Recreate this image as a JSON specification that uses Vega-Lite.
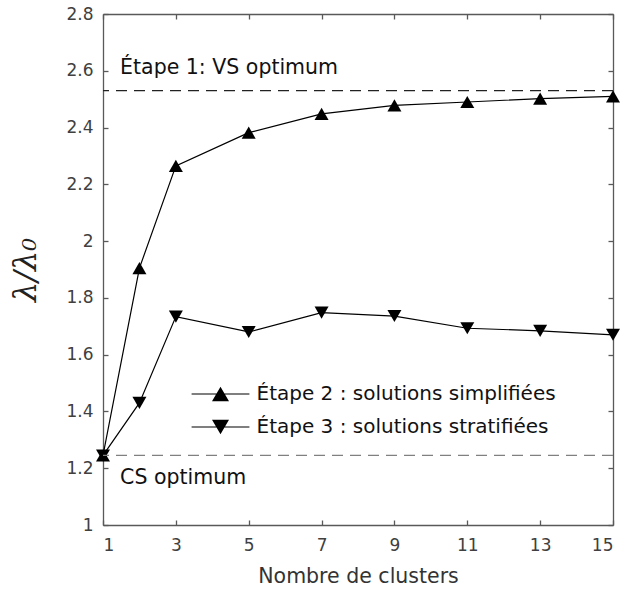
{
  "$schema": "https://vega.github.io/schema/vega-lite/v6.json",
  "width": 510,
  "height": 511,
  "autosize": {"type": "none"},
  "padding": {"left": 103, "top": 14, "right": 11, "bottom": 65},
  "background": "white",
  "config": {
    "view": {"stroke": null},
    "font": "DejaVu Sans",
    "axis": {"grid": false, "domainColor": "#595959", "tickColor": "#595959", "labelColor": "#404040", "labelFont": "DejaVu Sans", "labelFontSize": 17, "tickSize": -5, "labelPadding": 15, "domainWidth": 1.3, "tickWidth": 1.3}
  },
  "data": {"values": [
    {"series": "Étape 2 : solutions simplifiées", "x": 1, "y": 1.245},
    {"series": "Étape 2 : solutions simplifiées", "x": 2, "y": 1.905},
    {"series": "Étape 2 : solutions simplifiées", "x": 3, "y": 2.265},
    {"series": "Étape 2 : solutions simplifiées", "x": 5, "y": 2.382},
    {"series": "Étape 2 : solutions simplifiées", "x": 7, "y": 2.448},
    {"series": "Étape 2 : solutions simplifiées", "x": 9, "y": 2.478},
    {"series": "Étape 2 : solutions simplifiées", "x": 11, "y": 2.49},
    {"series": "Étape 2 : solutions simplifiées", "x": 13, "y": 2.502},
    {"series": "Étape 2 : solutions simplifiées", "x": 15, "y": 2.51},
    {"series": "Étape 3 : solutions stratifiées", "x": 1, "y": 1.245},
    {"series": "Étape 3 : solutions stratifiées", "x": 2, "y": 1.43},
    {"series": "Étape 3 : solutions stratifiées", "x": 3, "y": 1.734},
    {"series": "Étape 3 : solutions stratifiées", "x": 5, "y": 1.68},
    {"series": "Étape 3 : solutions stratifiées", "x": 7, "y": 1.748},
    {"series": "Étape 3 : solutions stratifiées", "x": 9, "y": 1.736},
    {"series": "Étape 3 : solutions stratifiées", "x": 11, "y": 1.693},
    {"series": "Étape 3 : solutions stratifiées", "x": 13, "y": 1.684},
    {"series": "Étape 3 : solutions stratifiées", "x": 15, "y": 1.67}
  ]},
  "resolve": {"axis": {"x": "independent", "y": "independent"}},
  "layer": [
    {
      "mark": {"type": "line", "color": "black", "strokeWidth": 1.2},
      "encoding": {
        "x": {"field": "x", "type": "quantitative", "scale": {"domain": [1, 15], "nice": false, "zero": false},
              "axis": {"orient": "bottom", "values": [1, 3, 5, 7, 9, 11, 13, 15], "labelPadding": 17, "title": "Nombre de clusters", "titleFont": "DejaVu Sans", "titleFontSize": 20.5, "titleFontWeight": "normal", "titleColor": "#333", "titlePadding": 13}},
        "y": {"field": "y", "type": "quantitative", "scale": {"domain": [1, 2.8], "nice": false, "zero": false},
              "axis": {"orient": "left", "values": [1, 1.2, 1.4, 1.6, 1.8, 2, 2.2, 2.4, 2.6, 2.8], "format": ".1~f", "title": "λ/λ₀", "titleFont": "DejaVu Serif", "titleFontStyle": "italic", "titleFontSize": 32, "titleFontWeight": "normal", "titleColor": "#222", "titlePadding": 23}},
        "detail": {"field": "series"}
      }
    },
    {
      "transform": [{"filter": "datum.series === 'Étape 2 : solutions simplifiées'"}],
      "mark": {"type": "point", "filled": true, "color": "black", "size": 196, "opacity": 1, "shape": "triangle-up"},
      "encoding": {
        "x": {"field": "x", "type": "quantitative", "axis": null},
        "y": {"field": "y", "type": "quantitative", "axis": null}
      }
    },
    {
      "transform": [{"filter": "datum.series === 'Étape 3 : solutions stratifiées'"}],
      "mark": {"type": "point", "filled": true, "color": "black", "size": 196, "opacity": 1, "shape": "triangle-down"},
      "encoding": {
        "x": {"field": "x", "type": "quantitative", "axis": null},
        "y": {"field": "y", "type": "quantitative", "axis": null}
      }
    },
    {
      "transform": [{"filter": "datum.x > 100"}],
      "mark": {"type": "point", "filled": true, "color": "black", "opacity": 1},
      "encoding": {
        "x": {"field": "x", "type": "quantitative", "axis": null},
        "y": {"field": "y", "type": "quantitative", "axis": null},
        "shape": {"field": "series", "type": "nominal",
          "scale": {"domain": ["Étape 2 : solutions simplifiées", "Étape 3 : solutions stratifiées"], "range": ["M-3.4,-0.07H3.4V0.07H-3.4ZM0,-0.866L1,0.866L-1,0.866Z", "M-3.4,-0.07H3.4V0.07H-3.4ZM0,0.866L-1,-0.866L1,-0.866Z"]},
          "legend": {"orient": "none", "legendX": 107.5, "legendY": 370, "title": null, "padding": 0,
            "symbolSize": 289, "symbolFillColor": "black", "symbolStrokeColor": "black", "symbolStrokeWidth": 0, "symbolOpacity": 1,
            "labelFont": "DejaVu Sans", "labelFontSize": 20, "labelColor": "#111", "labelOffset": 26, "labelLimit": 0, "rowPadding": 13,
            "encode": {"symbols": {"update": {"fill": {"value": "black"}, "opacity": {"value": 1}}}}}
        }
      }
    },
    {
      "data": {"values": [{}]},
      "mark": {"type": "rule", "color": "#222", "strokeDash": [11, 7], "strokeWidth": 1.2},
      "encoding": {"y": {"datum": 2.53, "type": "quantitative", "axis": null}}
    },
    {
      "data": {"values": [{}]},
      "mark": {"type": "rule", "color": "#808080", "strokeDash": [11, 7], "strokeWidth": 1.2},
      "encoding": {"y": {"datum": 1.245, "type": "quantitative", "axis": null}}
    },
    {
      "data": {"values": [{}]},
      "mark": {"type": "text", "align": "left", "baseline": "alphabetic", "font": "DejaVu Sans", "fontSize": 20.5, "color": "#111"},
      "encoding": {"x": {"datum": 1.47, "type": "quantitative", "axis": null}, "y": {"datum": 2.59, "type": "quantitative", "axis": null}, "text": {"value": "Étape 1: VS optimum"}}
    },
    {
      "data": {"values": [{}]},
      "mark": {"type": "text", "align": "left", "baseline": "alphabetic", "font": "DejaVu Sans", "fontSize": 20.5, "color": "#111"},
      "encoding": {"x": {"datum": 1.47, "type": "quantitative", "axis": null}, "y": {"datum": 1.1445, "type": "quantitative", "axis": null}, "text": {"value": "CS optimum"}}
    },
    {
      "mark": {"type": "point", "opacity": 0},
      "encoding": {
        "x": {"field": "x", "type": "quantitative", "axis": {"orient": "top", "values": [1, 3, 5, 7, 9, 11, 13, 15], "labels": false, "title": null}},
        "y": {"field": "y", "type": "quantitative", "axis": {"orient": "right", "values": [1, 1.2, 1.4, 1.6, 1.8, 2, 2.2, 2.4, 2.6, 2.8], "labels": false, "title": null}}
      }
    }
  ]
}
